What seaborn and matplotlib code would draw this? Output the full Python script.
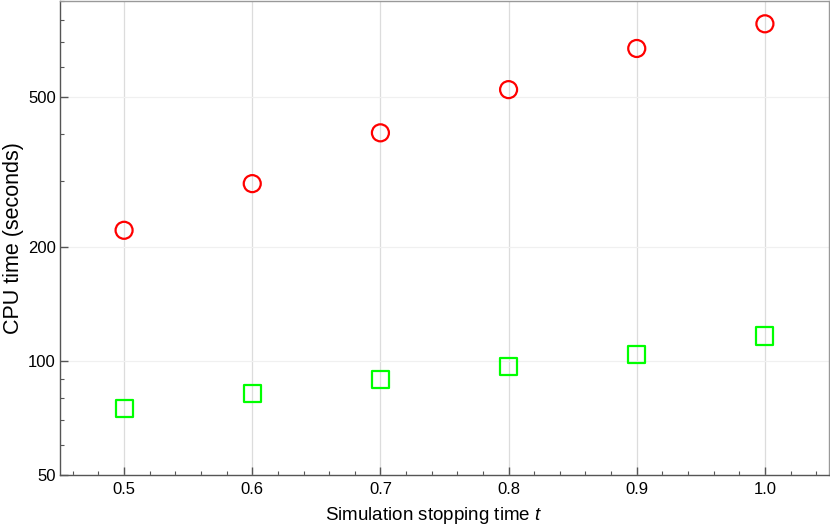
import numpy as np
import pandas as pd
import matplotlib
matplotlib.use("Agg")
import matplotlib.pyplot as plt
import seaborn as sns
from matplotlib.ticker import LogLocator, FixedLocator, NullFormatter, MultipleLocator

# ## Data ## #
stop_times = [0.5, 0.6, 0.7, 0.8, 0.9, 1.0]
cpu_red = [222, 295, 402, 523, 672, 781]
cpu_green = [75.1, 82.3, 89.6, 97.0, 104.4, 116.6]
y_ticks = [50, 100, 200, 500]
x_ticks = [0.5, 0.6, 0.7, 0.8, 0.9, 1.0]

df_red = pd.DataFrame({"t": stop_times, "cpu": cpu_red})
df_green = pd.DataFrame({"t": stop_times, "cpu": cpu_green})

# ## Style ## #
sns.set_style("white", {"xtick.bottom": True, "ytick.left": True})
plt.rcParams['font.family'] = ['Liberation Sans', 'DejaVu Sans']
plt.rcParams['mathtext.fontset'] = 'custom'
plt.rcParams['mathtext.it'] = 'Liberation Sans:italic'

fig, ax = plt.subplots(figsize=(8.3, 5.27), dpi=100)
fig.subplots_adjust(left=60/830, right=829/830, top=0.999, bottom=1 - 475/527)

# Hollow markers for the two series
sns.scatterplot(data=df_red, x="t", y="cpu", marker="o", s=150, facecolors="none",
                edgecolor="#ff0000", linewidth=1.6, ax=ax, zorder=3)
sns.scatterplot(data=df_green, x="t", y="cpu", marker="s", s=150, facecolors="none",
                edgecolor="#00ff00", linewidth=1.6, ax=ax, zorder=3)

# Axes scales and limits
ax.set_yscale("log")
ax.set_ylim(50, 900)
ax.set_xlim(0.45, 1.05)

ax.yaxis.set_major_locator(FixedLocator(y_ticks))
ax.set_yticklabels([str(v) for v in y_ticks])
ax.yaxis.set_minor_locator(LogLocator(base=10, subs=np.arange(2, 10)))
ax.yaxis.set_minor_formatter(NullFormatter())
ax.xaxis.set_major_locator(FixedLocator(x_ticks))
ax.set_xticklabels([f"{v:.1f}" for v in x_ticks])
ax.xaxis.set_minor_locator(MultipleLocator(0.02))

ax.tick_params(which="both", bottom=True, left=True, top=False, right=False)
ax.tick_params(which="major", direction="in", length=6, width=1, color="#555555",
               labelsize=12, labelcolor="black")
ax.tick_params(axis="y", which="major", pad=3)
ax.tick_params(axis="x", which="major", pad=5)
ax.tick_params(which="minor", direction="in", length=3, width=0.8, color="#555555")

# Grid
ax.grid(False)
ax.xaxis.grid(True, which="major", color="#dcdcdc", linewidth=0.9)
ax.yaxis.grid(True, which="major", color="#f0f0f0", linewidth=0.9)
ax.set_axisbelow(True)

# Spines
for side in ["left", "bottom"]:
    ax.spines[side].set_color("#555555")
    ax.spines[side].set_linewidth(1.0)
for side in ["top", "right"]:
    ax.spines[side].set_color("#999999")
    ax.spines[side].set_linewidth(1.0)

ax.set_xlabel("Simulation stopping time $t$", fontsize=13.5, color="black")
ax.set_ylabel("CPU time (seconds)", fontsize=15.5, color="black")
ax.xaxis.set_label_coords(0.486, -0.063)
ax.yaxis.set_label_coords(-0.047, 0.5)

fig.savefig("out.png", dpi=100)
